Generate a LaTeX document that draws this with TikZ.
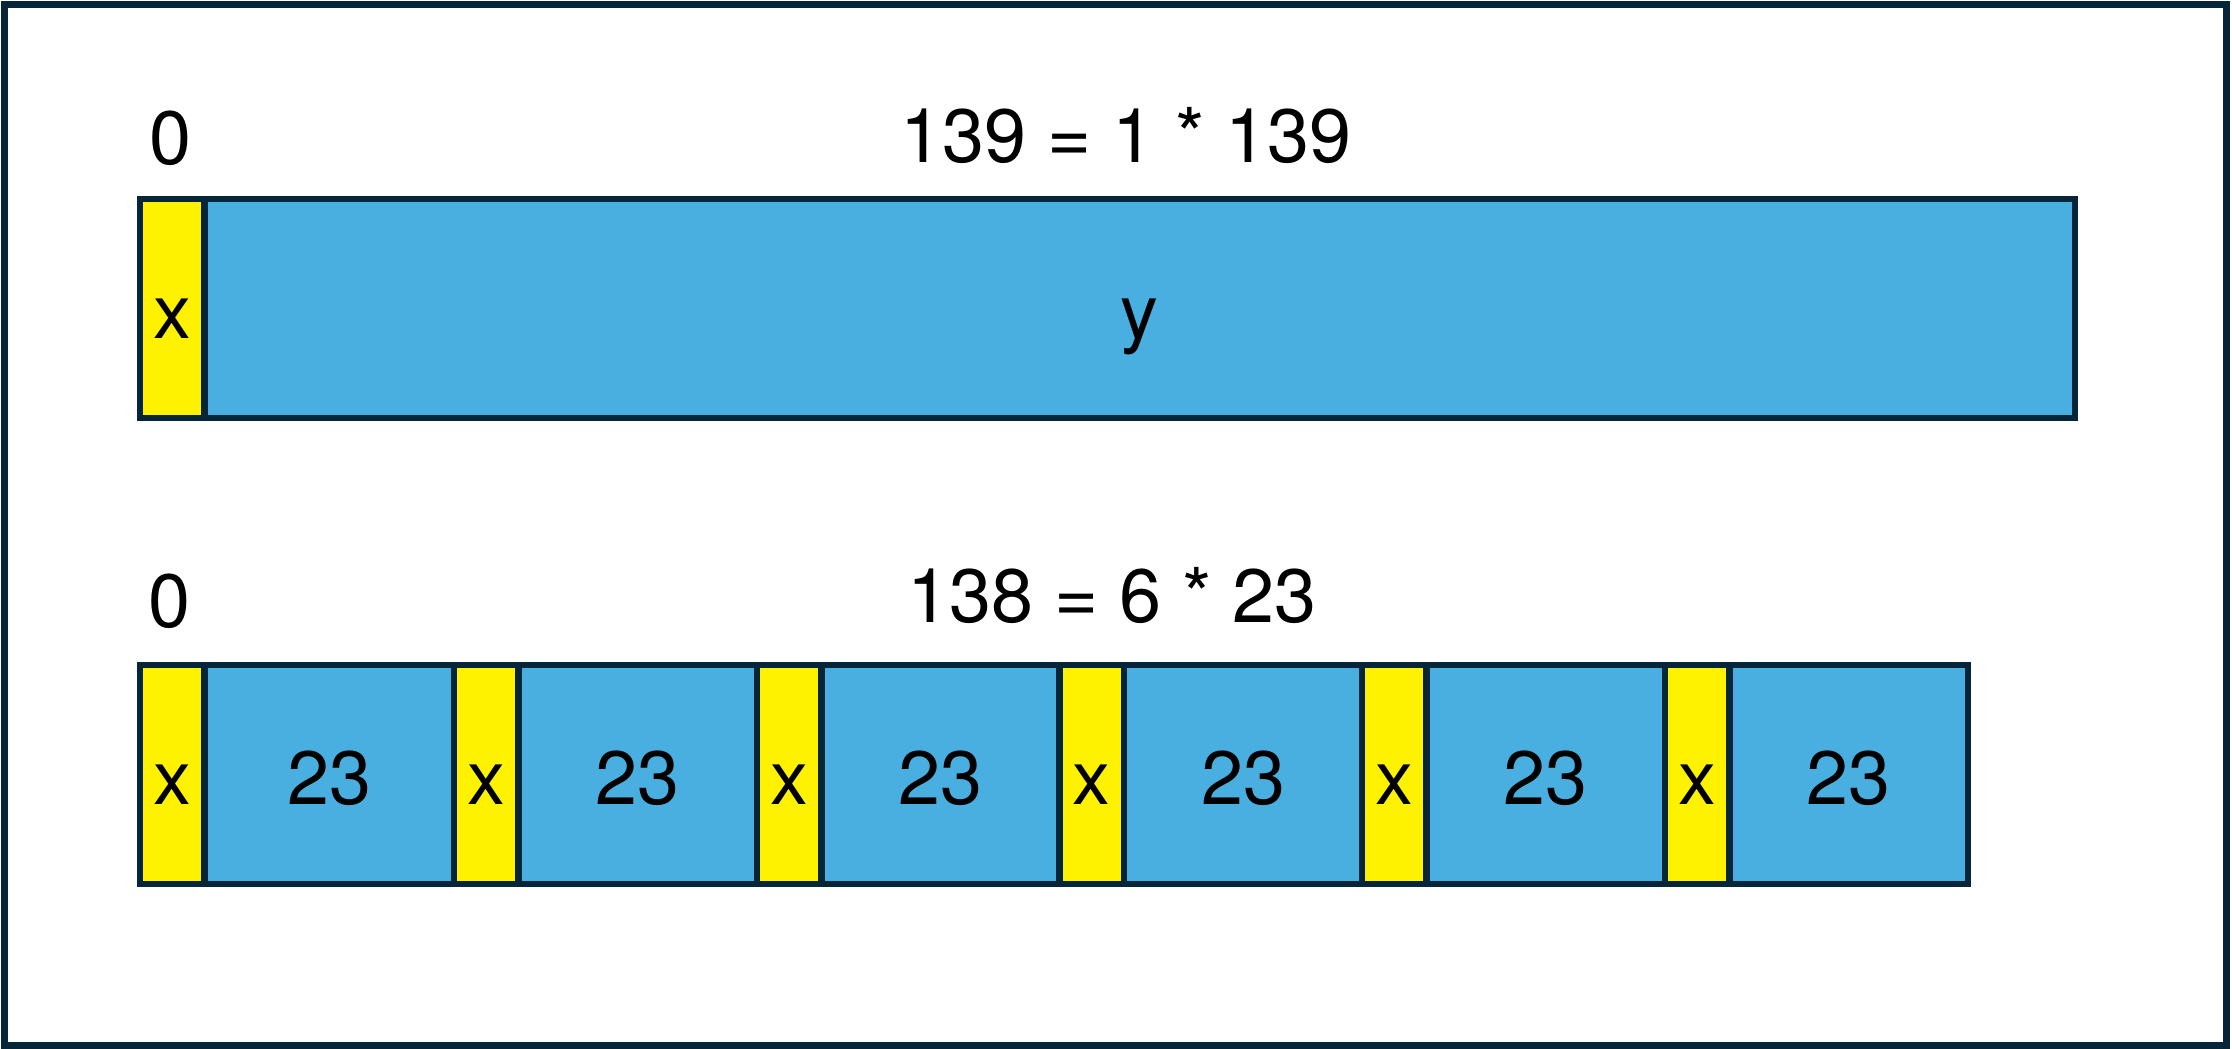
\documentclass[tikz,border=0pt]{standalone}
\usepackage{fontspec}
\setmainfont{TeX Gyre Heros}
\definecolor{cellblue}{HTML}{48AFE0}
\definecolor{edgenavy}{HTML}{062539}
\begin{document}
\begin{tikzpicture}[x=0.01cm, y=-0.01cm, font=\fontsize{21.5}{26}\selectfont,
  cell/.style={draw=edgenavy, line width=1.8pt, rectangle, inner sep=0pt, outer sep=0pt, anchor=west, minimum height=2.19cm, text height=0.6cm, text depth=0pt},
  xcell/.style={cell, fill=yellow, minimum width=0.645cm},
  ycell/.style={cell, fill=cellblue}]
\useasboundingbox (0,0) rectangle (2232,1049);
\draw[edgenavy, line width=1.8pt] (4.5,4.5) rectangle (2226.5,1045.5);
\node[anchor=base] (zeroA) at (171,165) {0};
\node[anchor=base] (eqA) at (1126,163) {139 = 1 * 139};
\node[xcell] (xA) at (140,308.5) {x};
\node[ycell, minimum width=18.695cm] (yA) at (xA.east) {y};
\node[anchor=base] (zeroB) at (170,628) {0};
\node[anchor=base] (eqB) at (1112,623) {138 = 6 * 23};
\foreach \i/\xs/\w in {1/140/2.495, 2/454/2.385, 3/757/2.385, 4/1059.5/2.385, 5/1362/2.385, 6/1665/2.385}{
  \node[xcell] (x\i) at (\xs,774.5) {x};
  \node[ycell, minimum width=\w cm] (b\i) at (x\i.east) {23};
}
\end{tikzpicture}
\end{document}
